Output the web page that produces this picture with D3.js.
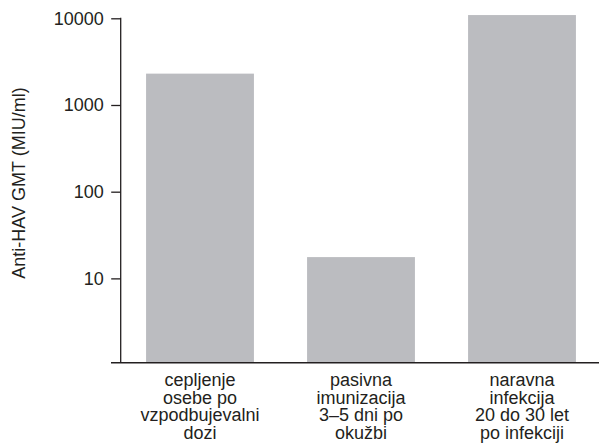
<!DOCTYPE html>
<html>
<head>
<meta charset="utf-8">
<script src="https://cdn.jsdelivr.net/npm/d3@7"></script>
<style>
  html, body { margin: 0; padding: 0; background: #fff; }
  svg { display: block; }
  text { font-family: "Liberation Sans", Arial, Helvetica, sans-serif; fill: #231f20; }
</style>
</head>
<body>
<svg id="chart" width="599" height="445"></svg>
<script>
// Anti-HAV geometric mean titres by group (MIU/ml, log scale)
const categories = [
  ["cepljenje", "osebe po", "vzpodbujevalni", "dozi"],
  ["pasivna", "imunizacija", "3–5 dni po", "okužbi"],
  ["naravna", "infekcija", "20 do 30 let", "po infekciji"]
];
const titres = [2300, 17.6, 10900];
const tickValues = [10, 100, 1000, 10000];
const yAxisLabel = "Anti-HAV GMT (MIU/ml)";

(function drawChart() {
  const svg = d3.select("#chart");
  const ink = "#231f20";
  const fontSize = 18;

  const plotLeft = 120.7, plotBottom = 362.7, plotTop = 18.3;

  const y = d3.scaleLog()
    .domain([1.065, 10000])
    .range([plotBottom, plotTop]);

  const x = d3.scaleBand()
    .domain(d3.range(categories.length))
    .range([119.5, 602.5])
    .paddingInner(0.33)
    .paddingOuter(0.165);

  // bars
  svg.append("g")
    .selectAll("rect")
    .data(titres)
    .join("rect")
    .attr("x", (d, i) => x(i))
    .attr("width", x.bandwidth())
    .attr("y", d => y(d))
    .attr("height", d => plotBottom - y(d))
    .attr("fill", "#bbbcc0");

  // y axis
  const yAxis = d3.axisLeft(y)
    .tickValues(tickValues)
    .tickFormat(d3.format("d"))
    .tickSize(9.5)
    .tickPadding(7.5)
    .tickSizeOuter(0);

  const gy = svg.append("g")
    .attr("transform", `translate(${plotLeft},0)`)
    .call(yAxis);
  gy.select(".domain").remove();
  gy.append("line")
    .attr("x1", 0).attr("x2", 0)
    .attr("y1", plotTop - 0.6).attr("y2", plotBottom)
    .attr("stroke", ink).attr("stroke-width", 1.3);
  gy.selectAll(".tick line").attr("stroke", ink).attr("stroke-width", 1.3);
  gy.selectAll(".tick text")
    .attr("font-size", fontSize)
    .attr("font-family", "'Liberation Sans', Arial, sans-serif")
    .attr("fill", ink);

  // x axis baseline
  svg.append("line")
    .attr("x1", 111).attr("x2", 599)
    .attr("y1", plotBottom).attr("y2", plotBottom)
    .attr("stroke", ink).attr("stroke-width", 1.4);

  // category labels
  const lineH = 17.7;
  const labels = svg.append("g")
    .selectAll("text")
    .data(categories)
    .join("text")
    .attr("text-anchor", "middle")
    .attr("font-size", fontSize)
    .attr("x", (d, i) => x(i) + x.bandwidth() / 2)
    .attr("y", 386);
  labels.selectAll("tspan")
    .data(d => d)
    .join("tspan")
    .attr("x", function () { return d3.select(this.parentNode).attr("x"); })
    .attr("dy", (d, i) => i === 0 ? 0 : lineH)
    .text(d => d);

  // y axis title
  svg.append("text")
    .attr("transform", "translate(24.5,183) rotate(-90)")
    .attr("text-anchor", "middle")
    .attr("font-size", fontSize)
    .text(yAxisLabel);
})();
</script>
</body>
</html>
